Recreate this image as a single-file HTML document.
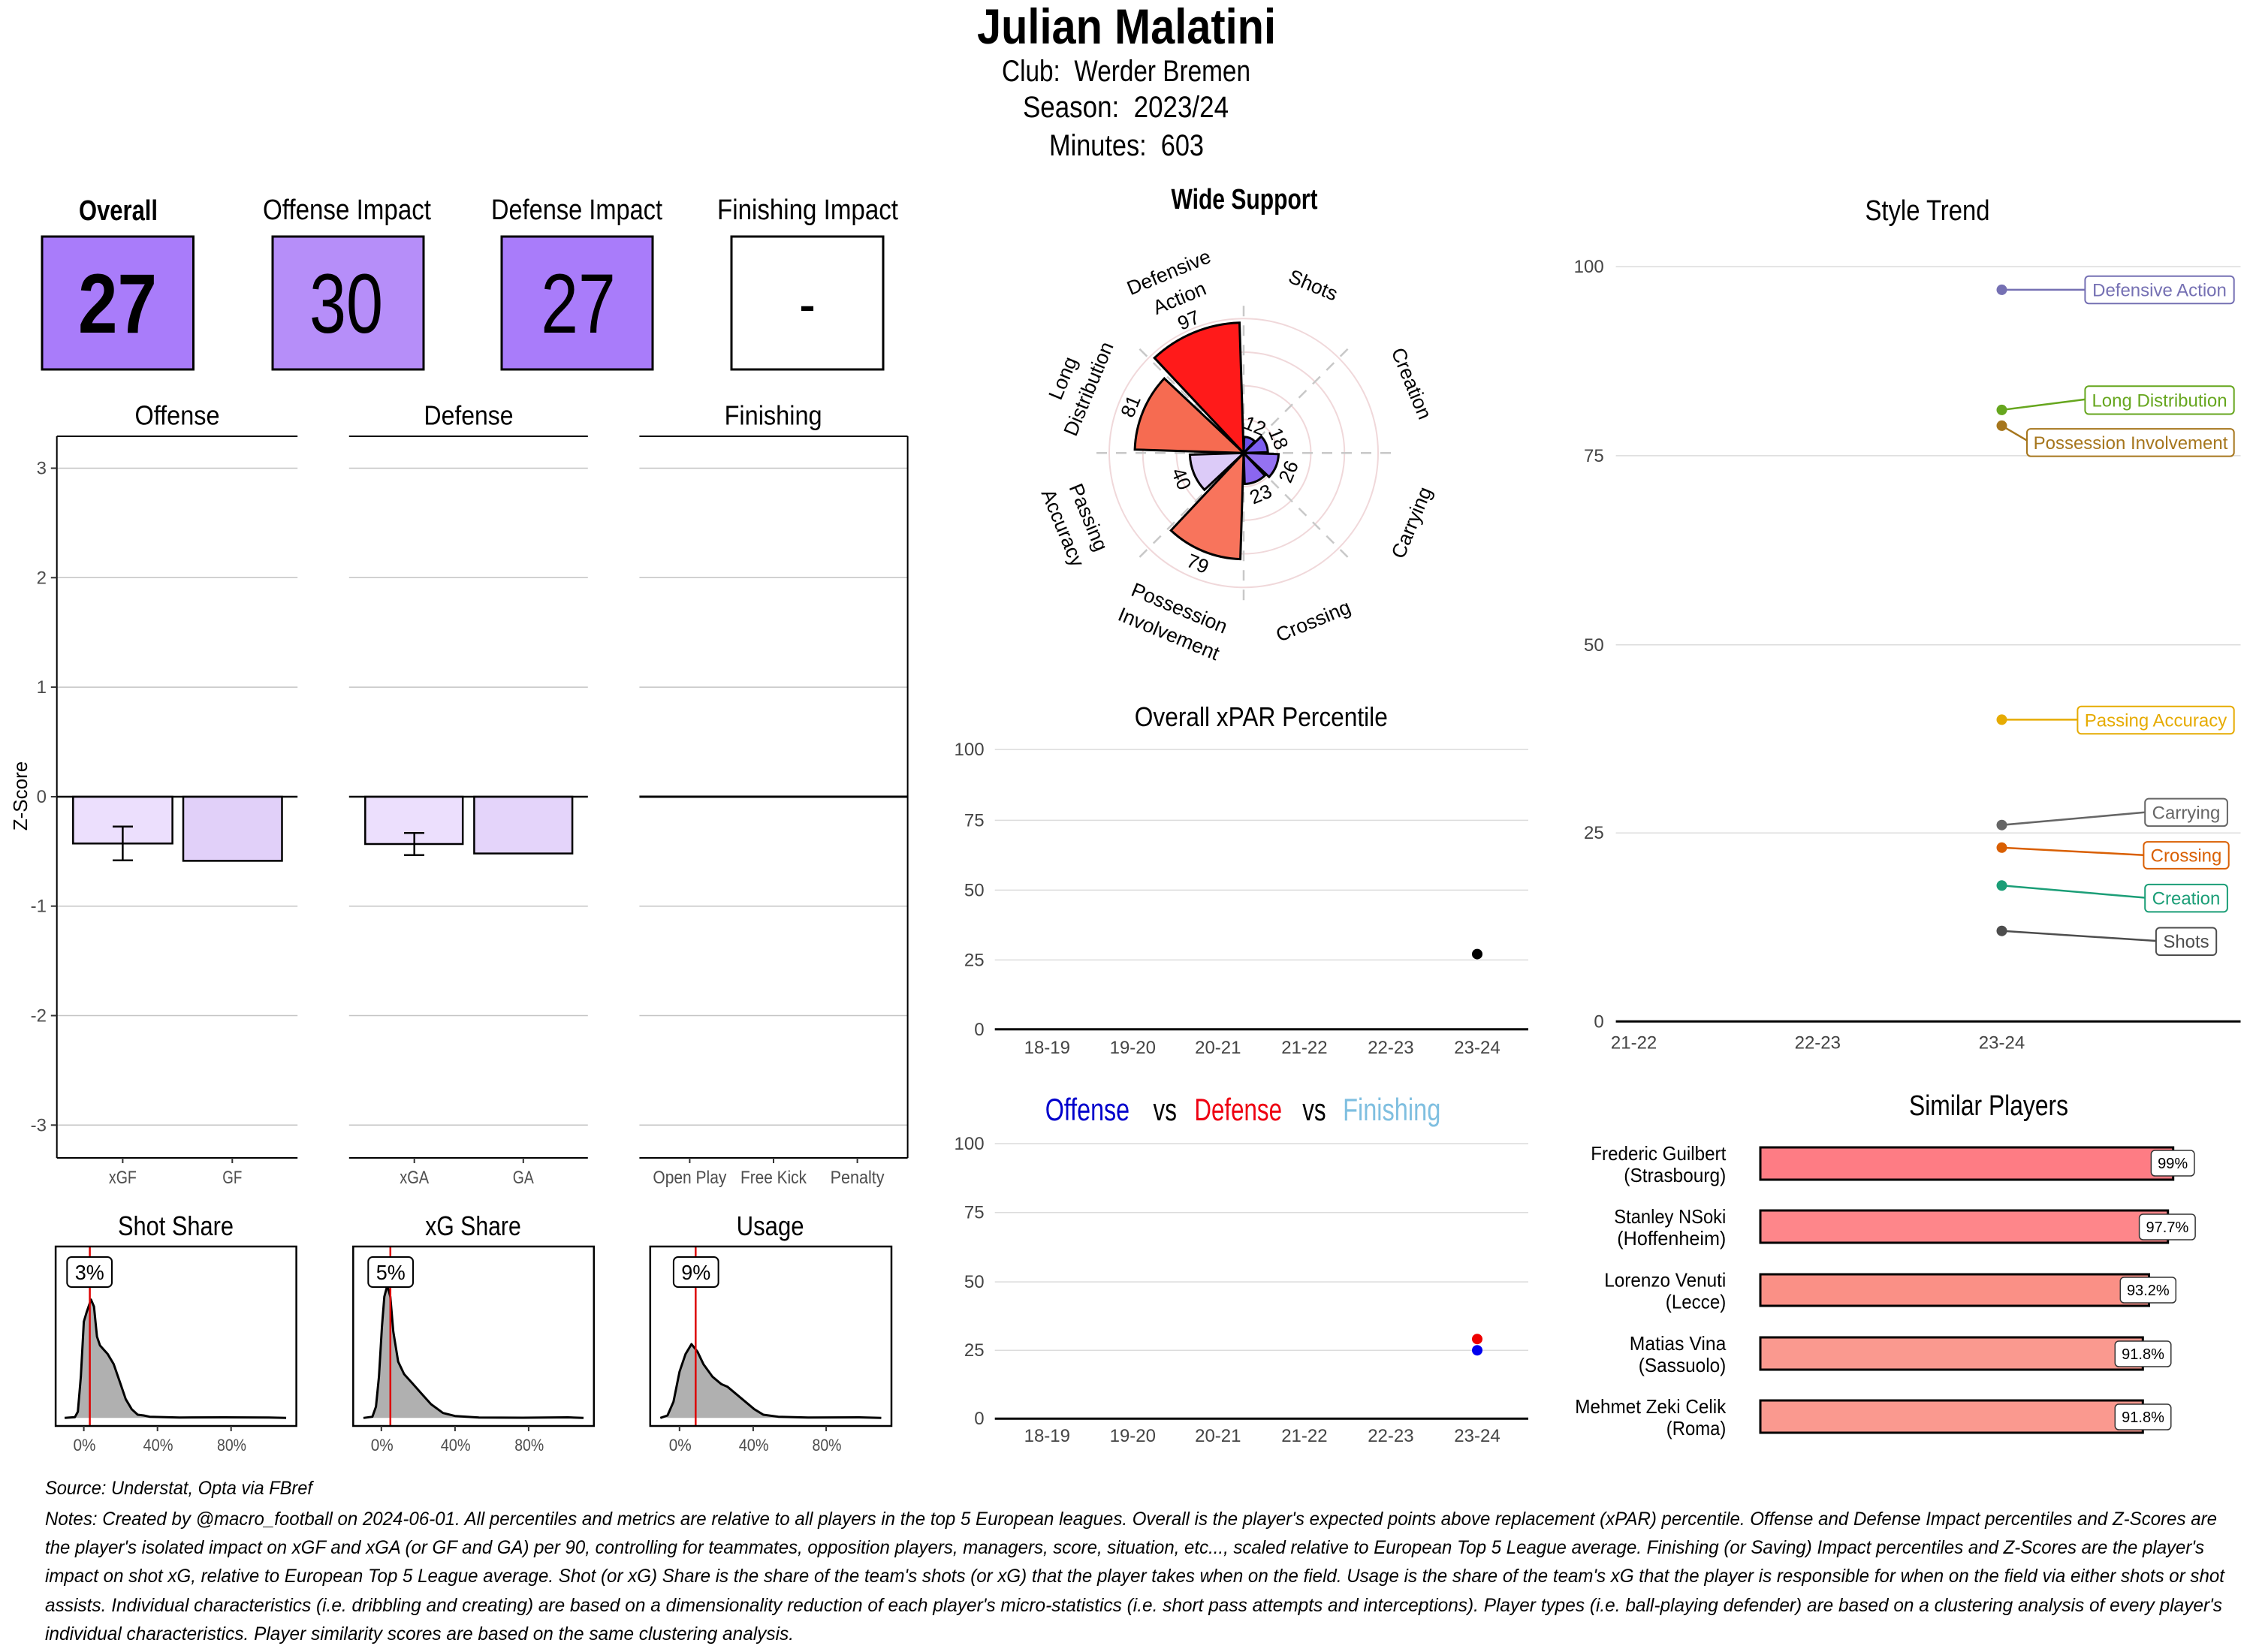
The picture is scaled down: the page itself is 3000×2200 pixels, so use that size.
<!DOCTYPE html>
<html><head><meta charset="utf-8"><style>
html,body{margin:0;padding:0;background:#fff;}
svg{display:block;}
.c{font-family:"Liberation Sans Narrow","Liberation Sans",sans-serif;}
.a{font-family:"Liberation Sans",sans-serif;}
</style></head><body>
<svg width="3000" height="2200" viewBox="0 0 3000 2200" xmlns="http://www.w3.org/2000/svg">
<rect width="3000" height="2200" fill="#fff"/>

<!-- Title block -->
<text class="c" x="1500" y="58" font-size="66" font-weight="bold" text-anchor="middle" textLength="398" lengthAdjust="spacingAndGlyphs">Julian Malatini</text>
<text class="c" x="1499.5" y="108" font-size="40" text-anchor="middle" textLength="331" lengthAdjust="spacingAndGlyphs">Club:&#160; Werder Bremen</text>
<text class="c" x="1499" y="156" font-size="40" text-anchor="middle" textLength="274" lengthAdjust="spacingAndGlyphs">Season:&#160; 2023/24</text>
<text class="c" x="1500" y="207" font-size="40" text-anchor="middle" textLength="206" lengthAdjust="spacingAndGlyphs">Minutes:&#160; 603</text>

<!-- Headers -->
<text class="c" x="157.5" y="293" font-size="38" font-weight="bold" text-anchor="middle" textLength="105" lengthAdjust="spacingAndGlyphs">Overall</text>
<text class="c" x="462" y="292" font-size="38" text-anchor="middle" textLength="224" lengthAdjust="spacingAndGlyphs">Offense Impact</text>
<text class="c" x="768" y="292" font-size="38" text-anchor="middle" textLength="228" lengthAdjust="spacingAndGlyphs">Defense Impact</text>
<text class="c" x="1075.5" y="292" font-size="38" text-anchor="middle" textLength="241" lengthAdjust="spacingAndGlyphs">Finishing Impact</text>
<text class="c" x="1657" y="278" font-size="38" font-weight="bold" text-anchor="middle" textLength="195" lengthAdjust="spacingAndGlyphs">Wide Support</text>
<text class="c" x="2566.5" y="293" font-size="38" text-anchor="middle" textLength="166" lengthAdjust="spacingAndGlyphs">Style Trend</text>

<!-- Score boxes -->
<rect x="56" y="315" width="201.5" height="177" fill="#a97cfa" stroke="#000" stroke-width="3"/>
<rect x="363" y="315" width="201" height="177" fill="#b68ef9" stroke="#000" stroke-width="3"/>
<rect x="668" y="315" width="201" height="177" fill="#a97cfa" stroke="#000" stroke-width="3"/>
<rect x="974" y="315" width="202" height="177" fill="#fff" stroke="#000" stroke-width="3"/>
<text class="c" x="156.5" y="443" font-size="112" font-weight="bold" text-anchor="middle" textLength="105" lengthAdjust="spacingAndGlyphs">27</text>
<text class="c" x="461" y="443" font-size="112" text-anchor="middle" textLength="98" lengthAdjust="spacingAndGlyphs">30</text>
<text class="c" x="770" y="443" font-size="112" text-anchor="middle" textLength="99.5" lengthAdjust="spacingAndGlyphs">27</text>
<text class="c" x="1075" y="432" font-size="80" text-anchor="middle" textLength="22" lengthAdjust="spacingAndGlyphs">-</text>

<!-- Z-score panels -->
<g stroke="#c4c4c4" stroke-width="1.5">
  <line x1="75.7" x2="396.2" y1="623.5" y2="623.5"/><line x1="75.7" x2="396.2" y1="769.3" y2="769.3"/><line x1="75.7" x2="396.2" y1="915.1" y2="915.1"/>
  <line x1="75.7" x2="396.2" y1="1206.7" y2="1206.7"/><line x1="75.7" x2="396.2" y1="1352.5" y2="1352.5"/><line x1="75.7" x2="396.2" y1="1498.3" y2="1498.3"/>
  <line x1="464.8" x2="782.8" y1="623.5" y2="623.5"/><line x1="464.8" x2="782.8" y1="769.3" y2="769.3"/><line x1="464.8" x2="782.8" y1="915.1" y2="915.1"/>
  <line x1="464.8" x2="782.8" y1="1206.7" y2="1206.7"/><line x1="464.8" x2="782.8" y1="1352.5" y2="1352.5"/><line x1="464.8" x2="782.8" y1="1498.3" y2="1498.3"/>
  <line x1="851.4" x2="1208.6" y1="623.5" y2="623.5"/><line x1="851.4" x2="1208.6" y1="769.3" y2="769.3"/><line x1="851.4" x2="1208.6" y1="915.1" y2="915.1"/>
  <line x1="851.4" x2="1208.6" y1="1206.7" y2="1206.7"/><line x1="851.4" x2="1208.6" y1="1352.5" y2="1352.5"/><line x1="851.4" x2="1208.6" y1="1498.3" y2="1498.3"/>
</g>
<!-- bars -->
<rect x="97.3" y="1061" width="132.3" height="62.3" fill="#ecdffd" stroke="#000" stroke-width="2.5"/>
<rect x="244" y="1061" width="131.5" height="85.4" fill="#e1d0f9" stroke="#000" stroke-width="2.5"/>
<rect x="486.3" y="1061" width="129.9" height="63" fill="#ecdffd" stroke="#000" stroke-width="2.5"/>
<rect x="631.4" y="1061" width="130.7" height="75.6" fill="#e4d4fa" stroke="#000" stroke-width="2.5"/>
<g stroke="#000" stroke-width="2.5">
  <line x1="163.4" x2="163.4" y1="1100.8" y2="1145.7"/><line x1="150" x2="177" y1="1100.8" y2="1100.8"/><line x1="150" x2="177" y1="1145.7" y2="1145.7"/>
  <line x1="551.7" x2="551.7" y1="1109.3" y2="1138.7"/><line x1="538" x2="565" y1="1109.3" y2="1109.3"/><line x1="538" x2="565" y1="1138.7" y2="1138.7"/>
</g>
<g stroke="#000">
  <line x1="75.7" x2="396.2" y1="1061" y2="1061" stroke-width="2.5"/>
  <line x1="464.8" x2="782.8" y1="1061" y2="1061" stroke-width="2.5"/>
  <line x1="851.4" x2="1208.6" y1="1061" y2="1061" stroke-width="3"/>
  <line x1="75.7" x2="396.2" y1="581" y2="581" stroke-width="2"/>
  <line x1="464.8" x2="782.8" y1="581" y2="581" stroke-width="2"/>
  <line x1="851.4" x2="1208.6" y1="581" y2="581" stroke-width="2"/>
  <line x1="75.7" x2="396.2" y1="1542" y2="1542" stroke-width="2"/>
  <line x1="464.8" x2="782.8" y1="1542" y2="1542" stroke-width="2"/>
  <line x1="851.4" x2="1208.6" y1="1542" y2="1542" stroke-width="2"/>
  <line x1="75.7" x2="75.7" y1="581" y2="1542" stroke-width="2"/>
  <line x1="1208.6" x2="1208.6" y1="581" y2="1542" stroke-width="2"/>
</g>
<g stroke="#333" stroke-width="2">
  <line x1="67.8" x2="75.7" y1="623.5" y2="623.5"/><line x1="67.8" x2="75.7" y1="769.3" y2="769.3"/><line x1="67.8" x2="75.7" y1="915.1" y2="915.1"/>
  <line x1="67.8" x2="75.7" y1="1061" y2="1061"/><line x1="67.8" x2="75.7" y1="1206.7" y2="1206.7"/><line x1="67.8" x2="75.7" y1="1352.5" y2="1352.5"/><line x1="67.8" x2="75.7" y1="1498.3" y2="1498.3"/>
  <line x1="163.4" x2="163.4" y1="1542" y2="1549"/><line x1="309.3" x2="309.3" y1="1542" y2="1549"/>
  <line x1="551.7" x2="551.7" y1="1542" y2="1549"/><line x1="696.8" x2="696.8" y1="1542" y2="1549"/>
  <line x1="918.4" x2="918.4" y1="1542" y2="1549"/><line x1="1030" x2="1030" y1="1542" y2="1549"/><line x1="1141.6" x2="1141.6" y1="1542" y2="1549"/>
</g>
<g class="c" font-size="24" fill="#4d4d4d" text-anchor="end">
  <text x="62" y="631.5">3</text><text x="62" y="777.3">2</text><text x="62" y="923.1">1</text><text x="62" y="1069">0</text>
  <text x="62" y="1214.7">-1</text><text x="62" y="1360.5">-2</text><text x="62" y="1506.3">-3</text>
</g>
<g class="c" font-size="24" fill="#4d4d4d" text-anchor="middle">
  <text x="163.4" y="1576" textLength="37" lengthAdjust="spacingAndGlyphs">xGF</text>
  <text x="309.3" y="1576" textLength="26" lengthAdjust="spacingAndGlyphs">GF</text>
  <text x="551.7" y="1576" textLength="39" lengthAdjust="spacingAndGlyphs">xGA</text>
  <text x="696.8" y="1576" textLength="28" lengthAdjust="spacingAndGlyphs">GA</text>
  <text x="918.4" y="1576" textLength="98" lengthAdjust="spacingAndGlyphs">Open Play</text>
  <text x="1030" y="1576" textLength="88" lengthAdjust="spacingAndGlyphs">Free Kick</text>
  <text x="1141.6" y="1576" textLength="72" lengthAdjust="spacingAndGlyphs">Penalty</text>
</g>
<g class="c" font-size="36" text-anchor="middle">
  <text x="236" y="565.6" textLength="113" lengthAdjust="spacingAndGlyphs">Offense</text>
  <text x="624" y="565.6" textLength="119" lengthAdjust="spacingAndGlyphs">Defense</text>
  <text x="1029.6" y="565.6" textLength="130" lengthAdjust="spacingAndGlyphs">Finishing</text>
</g>
<text class="a" x="0" y="0" font-size="26" text-anchor="middle" dominant-baseline="central" transform="translate(27,1060) rotate(-90)">Z-Score</text>

<!-- Density panels -->
<g class="c" font-size="36" text-anchor="middle">
  <text x="234" y="1645" textLength="154" lengthAdjust="spacingAndGlyphs">Shot Share</text>
  <text x="630" y="1645" textLength="127.6" lengthAdjust="spacingAndGlyphs">xG Share</text>
  <text x="1025.6" y="1645" textLength="90" lengthAdjust="spacingAndGlyphs">Usage</text>
</g>
<g transform="scale(0.99488,1)">
<path d="M86.5,1888.3 L100.2,1887.3 L104.2,1880 L108.2,1833.3 L112.2,1760 L116.2,1746.7 L121.8,1730.7 L125.8,1740 L129.8,1780 L133.8,1791.7 L144.2,1803.3 L152.2,1816.7 L160.3,1840 L168.3,1863.3 L176.3,1876.7 L184.3,1884 L192.3,1885 L200.3,1886.7 L240.4,1887.7 L300,1887.5 L360,1887.7 L383,1888.3 Z" fill="#b0b0b0"/>
<path d="M486.4,1888.3 L498.4,1886.7 L503.2,1873.3 L507.2,1833.3 L511.2,1766.7 L514.4,1726.7 L518.4,1711.7 L522.4,1726.7 L526.4,1773.3 L532.9,1813.3 L540.9,1830 L552.9,1843.3 L564.9,1856.7 L576.9,1870 L592.9,1881.7 L609,1885.7 L641,1887.7 L700,1888 L760,1887.5 L781,1888.3 Z" fill="#b0b0b0"/>
<path d="M883.8,1888.3 L893.4,1885 L901.4,1866.7 L909.5,1826.7 L917.5,1803.3 L925.5,1790 L933.5,1800 L941.5,1816.7 L953.5,1833.3 L965.5,1843.3 L973.6,1846.7 L985.6,1856.7 L997.6,1866.7 L1009.6,1876.7 L1021.6,1884 L1041.7,1886.7 L1081.7,1887.7 L1150,1887.5 L1179.5,1888.3 Z" fill="#b0b0b0"/>
<g fill="none" stroke="#000" stroke-width="3" stroke-linejoin="round">
<path d="M86.5,1888.3 L100.2,1887.3 L104.2,1880 L108.2,1833.3 L112.2,1760 L116.2,1746.7 L121.8,1730.7 L125.8,1740 L129.8,1780 L133.8,1791.7 L144.2,1803.3 L152.2,1816.7 L160.3,1840 L168.3,1863.3 L176.3,1876.7 L184.3,1884 L192.3,1885 L200.3,1886.7 L240.4,1887.7 L300,1887.5 L360,1887.7 L383,1888.3"/>
<path d="M486.4,1888.3 L498.4,1886.7 L503.2,1873.3 L507.2,1833.3 L511.2,1766.7 L514.4,1726.7 L518.4,1711.7 L522.4,1726.7 L526.4,1773.3 L532.9,1813.3 L540.9,1830 L552.9,1843.3 L564.9,1856.7 L576.9,1870 L592.9,1881.7 L609,1885.7 L641,1887.7 L700,1888 L760,1887.5 L781,1888.3"/>
<path d="M883.8,1888.3 L893.4,1885 L901.4,1866.7 L909.5,1826.7 L917.5,1803.3 L925.5,1790 L933.5,1800 L941.5,1816.7 L953.5,1833.3 L965.5,1843.3 L973.6,1846.7 L985.6,1856.7 L997.6,1866.7 L1009.6,1876.7 L1021.6,1884 L1041.7,1886.7 L1081.7,1887.7 L1150,1887.5 L1179.5,1888.3"/>
</g>
</g>
<g stroke="#dd0000" stroke-width="2.5">
  <line x1="119.6" x2="119.6" y1="1660" y2="1899"/>
  <line x1="519.8" x2="519.8" y1="1660" y2="1899"/>
  <line x1="926.3" x2="926.3" y1="1660" y2="1899"/>
</g>
<g fill="none" stroke="#000" stroke-width="2.5">
  <rect x="74.1" y="1660" width="320.5" height="239"/>
  <rect x="470.3" y="1660" width="320.5" height="239"/>
  <rect x="865.8" y="1660" width="321.2" height="239"/>
</g>
<g stroke="#333" stroke-width="2">
  <line x1="111.6" x2="111.6" y1="1899" y2="1906"/><line x1="209.7" x2="209.7" y1="1899" y2="1906"/><line x1="307.7" x2="307.7" y1="1899" y2="1906"/>
  <line x1="507.8" x2="507.8" y1="1899" y2="1906"/><line x1="605.9" x2="605.9" y1="1899" y2="1906"/><line x1="703.9" x2="703.9" y1="1899" y2="1906"/>
  <line x1="904.8" x2="904.8" y1="1899" y2="1906"/><line x1="1002.9" x2="1002.9" y1="1899" y2="1906"/><line x1="1100.1" x2="1100.1" y1="1899" y2="1906"/>
</g>
<g class="c" font-size="22" fill="#4d4d4d" text-anchor="middle">
  <text x="112.5" y="1932" textLength="30" lengthAdjust="spacingAndGlyphs">0%</text>
  <text x="210.5" y="1932" textLength="40" lengthAdjust="spacingAndGlyphs">40%</text>
  <text x="308.5" y="1932" textLength="39" lengthAdjust="spacingAndGlyphs">80%</text>
  <text x="508.7" y="1932" textLength="30" lengthAdjust="spacingAndGlyphs">0%</text>
  <text x="606.7" y="1932" textLength="40" lengthAdjust="spacingAndGlyphs">40%</text>
  <text x="704.7" y="1932" textLength="39" lengthAdjust="spacingAndGlyphs">80%</text>
  <text x="905.7" y="1932" textLength="30" lengthAdjust="spacingAndGlyphs">0%</text>
  <text x="1003.7" y="1932" textLength="40" lengthAdjust="spacingAndGlyphs">40%</text>
  <text x="1101" y="1932" textLength="39" lengthAdjust="spacingAndGlyphs">80%</text>
</g>
<g fill="#fff" stroke="#000" stroke-width="2">
  <rect x="89.3" y="1674" width="59.7" height="40" rx="6"/>
  <rect x="490.3" y="1674" width="59.7" height="40" rx="6"/>
  <rect x="896.9" y="1674" width="59.7" height="40" rx="6"/>
</g>
<g class="c" font-size="28" text-anchor="middle">
  <text x="119.2" y="1704" textLength="39" lengthAdjust="spacingAndGlyphs">3%</text>
  <text x="520.2" y="1704" textLength="39" lengthAdjust="spacingAndGlyphs">5%</text>
  <text x="926.8" y="1704" textLength="39" lengthAdjust="spacingAndGlyphs">9%</text>
</g>

<!-- Radar -->
<g transform="translate(-2,-1.7)">
<g fill="none" stroke="#f0d8da" stroke-width="2">
  <circle cx="1658" cy="605" r="44.75"/><circle cx="1658" cy="605" r="89.5"/>
  <circle cx="1658" cy="605" r="134.25"/><circle cx="1658" cy="605" r="179"/>
</g>
<g stroke="#c8c8c8" stroke-width="2.5" stroke-dasharray="14 12">
  <line x1="1658" y1="605" x2="1658" y2="406"/>
  <line x1="1658" y1="605" x2="1798.7" y2="464.3"/>
  <line x1="1658" y1="605" x2="1857" y2="605"/>
  <line x1="1658" y1="605" x2="1798.7" y2="745.7"/>
  <line x1="1658" y1="605" x2="1658" y2="804"/>
  <line x1="1658" y1="605" x2="1517.3" y2="745.7"/>
  <line x1="1658" y1="605" x2="1459" y2="605"/>
  <line x1="1658" y1="605" x2="1517.3" y2="464.3"/>
</g>
<g stroke="#000" stroke-width="3" stroke-linejoin="miter">
  <path d="M1658,605 L1658.7,583.5 A21.5,21.5 0 0 1 1672.7,589.3 Z" fill="#6c50e8"/>
  <path d="M1658,605 L1681.5,583.0 A32.2,32.2 0 0 1 1690.2,604.0 Z" fill="#7d5ff0"/>
  <path d="M1658,605 L1704.5,606.5 A46.5,46.5 0 0 1 1691.9,636.8 Z" fill="#9572f2"/>
  <path d="M1658,605 L1686.2,635.0 A41.2,41.2 0 0 1 1659.3,646.2 Z" fill="#8b66f0"/>
  <path d="M1658,605 L1653.6,746.3 A141.4,141.4 0 0 1 1561.2,708.1 Z" fill="#f8745c"/>
  <path d="M1658,605 L1605.8,654.0 A71.6,71.6 0 0 1 1586.4,607.2 Z" fill="#dccbf8"/>
  <path d="M1658,605 L1513.1,600.4 A145,145 0 0 1 1552.3,505.7 Z" fill="#f66b51"/>
  <path d="M1658,605 L1539.2,478.4 A173.6,173.6 0 0 1 1652.5,431.5 Z" fill="#ff1a1a"/>
</g>
<g class="a" font-size="26" text-anchor="middle" dominant-baseline="central">
  <text transform="translate(1673.1,568.5) rotate(22.5)">12</text>
  <text transform="translate(1704.4,585.8) rotate(67.5)">18</text>
  <text transform="translate(1717.6,629.7) rotate(-67.5)">26</text>
  <text transform="translate(1680.7,659.7) rotate(-22.5)">23</text>
  <text transform="translate(1597.0,752.3) rotate(22.5)">79</text>
  <text transform="translate(1575.2,639.3) rotate(67.5)">40</text>
  <text transform="translate(1507.4,542.6) rotate(-67.5)">81</text>
  <text transform="translate(1584.7,428.0) rotate(-22.5)">97</text>
</g>
<g class="a" font-size="26.5" text-anchor="middle" dominant-baseline="central">
  <text transform="translate(1750.6,381.4) rotate(22.5)">Shots</text>
  <text transform="translate(1881.6,512.4) rotate(67.5)">Creation</text>
  <text transform="translate(1881.6,697.6) rotate(-67.5)">Carrying</text>
  <text transform="translate(1750.6,828.6) rotate(-22.5)">Crossing</text>
  <g transform="translate(1565.4,828.6) rotate(22.5)"><text y="-18.5">Possession</text><text y="18.5">Involvement</text></g>
  <g transform="translate(1434.4,697.6) rotate(67.5)"><text y="-18.5">Passing</text><text y="18.5">Accuracy</text></g>
  <g transform="translate(1434.4,512.4) rotate(-67.5)"><text y="-18.5">Long</text><text y="18.5">Distribution</text></g>
  <g transform="translate(1565.4,381.4) rotate(-22.5)"><text y="-18.5">Defensive</text><text y="18.5">Action</text></g>
</g>
</g>

<!-- Overall xPAR Percentile -->
<text class="a" x="1679.3" y="967" font-size="36" text-anchor="middle" textLength="337" lengthAdjust="spacingAndGlyphs">Overall xPAR Percentile</text>
<g stroke="#dcdcdc" stroke-width="1.5">
  <line x1="1324.7" x2="2035" y1="998.1" y2="998.1"/><line x1="1324.7" x2="2035" y1="1092.4" y2="1092.4"/>
  <line x1="1324.7" x2="2035" y1="1185.4" y2="1185.4"/><line x1="1324.7" x2="2035" y1="1278.4" y2="1278.4"/>
  <line x1="1324.7" x2="2035" y1="1523" y2="1523"/><line x1="1324.7" x2="2035" y1="1614.7" y2="1614.7"/>
  <line x1="1324.7" x2="2035" y1="1707.1" y2="1707.1"/><line x1="1324.7" x2="2035" y1="1798.2" y2="1798.2"/>
</g>
<line x1="1324.7" x2="2035" y1="1370.8" y2="1370.8" stroke="#000" stroke-width="3"/>
<line x1="1324.7" x2="2035" y1="1889.2" y2="1889.2" stroke="#000" stroke-width="3"/>
<g class="a" font-size="24" fill="#444" text-anchor="end">
  <text x="1310.6" y="1006.1">100</text><text x="1310.6" y="1100.4">75</text><text x="1310.6" y="1193.4">50</text><text x="1310.6" y="1286.4">25</text><text x="1310.6" y="1378.8">0</text>
  <text x="1310.6" y="1531">100</text><text x="1310.6" y="1622.7">75</text><text x="1310.6" y="1715.1">50</text><text x="1310.6" y="1806.2">25</text><text x="1310.6" y="1897.2">0</text>
</g>
<g class="a" font-size="24" fill="#444" text-anchor="middle">
  <text x="1394.3" y="1403">18-19</text><text x="1508.3" y="1403">19-20</text><text x="1621.8" y="1403">20-21</text>
  <text x="1736.9" y="1403">21-22</text><text x="1851.9" y="1403">22-23</text><text x="1967" y="1403">23-24</text>
  <text x="1394.3" y="1920">18-19</text><text x="1508.3" y="1920">19-20</text><text x="1621.8" y="1920">20-21</text>
  <text x="1736.9" y="1920">21-22</text><text x="1851.9" y="1920">22-23</text><text x="1967" y="1920">23-24</text>
</g>
<circle cx="1967" cy="1270.6" r="7" fill="#000"/>
<circle cx="1967" cy="1783.2" r="7" fill="#ee0000"/>
<circle cx="1967" cy="1798.2" r="7" fill="#0000ee"/>
<g class="a" font-size="42">
  <text x="1391.7" y="1492" fill="#0000cc" textLength="112.4" lengthAdjust="spacingAndGlyphs">Offense</text>
  <text x="1535.5" y="1492" fill="#000" textLength="31.4" lengthAdjust="spacingAndGlyphs">vs</text>
  <text x="1590.4" y="1492" fill="#ee0011" textLength="116.6" lengthAdjust="spacingAndGlyphs">Defense</text>
  <text x="1734.2" y="1492" fill="#000" textLength="31.4" lengthAdjust="spacingAndGlyphs">vs</text>
  <text x="1788.1" y="1492" fill="#7fbfe0" textLength="130.2" lengthAdjust="spacingAndGlyphs">Finishing</text>
</g>

<!-- Style Trend -->
<g stroke="#dcdcdc" stroke-width="1.5">
  <line x1="2151.6" x2="2983.5" y1="355.1" y2="355.1"/><line x1="2151.6" x2="2983.5" y1="606.9" y2="606.9"/>
  <line x1="2151.6" x2="2983.5" y1="858.8" y2="858.8"/><line x1="2151.6" x2="2983.5" y1="1109.2" y2="1109.2"/>
</g>
<line x1="2151.6" x2="2983.5" y1="1360.3" y2="1360.3" stroke="#000" stroke-width="3"/>
<g class="a" font-size="24" fill="#444" text-anchor="end">
  <text x="2135.7" y="363.1">100</text><text x="2135.7" y="614.9">75</text><text x="2135.7" y="866.8">50</text><text x="2135.7" y="1117.2">25</text><text x="2135.7" y="1368.3">0</text>
</g>
<g class="a" font-size="24" fill="#444" text-anchor="middle">
  <text x="2175.6" y="1396.5">21-22</text><text x="2420.3" y="1396.5">22-23</text><text x="2665.5" y="1396.5">23-24</text>
</g>
<g stroke-width="2.5">
  <line x1="2665.5" y1="385.9" x2="2776.4" y2="385.9" stroke="#7570b3"/>
  <line x1="2665.5" y1="545.9" x2="2776.4" y2="531.9" stroke="#66a61e"/>
  <line x1="2665.5" y1="566.9" x2="2699" y2="586.6" stroke="#a6761d"/>
  <line x1="2665.5" y1="958.4" x2="2766.4" y2="958.4" stroke="#e6ab02"/>
  <line x1="2665.5" y1="1098.7" x2="2856.2" y2="1081.8" stroke="#666666"/>
  <line x1="2665.5" y1="1128.8" x2="2854.4" y2="1138.7" stroke="#d95f02"/>
  <line x1="2665.5" y1="1179.3" x2="2856.2" y2="1195.5" stroke="#1b9e77"/>
  <line x1="2665.5" y1="1239.7" x2="2870.9" y2="1253" stroke="#4d4d4d"/>
</g>
<circle cx="2665.5" cy="385.9" r="7" fill="#7570b3"/>
<circle cx="2665.5" cy="545.9" r="7" fill="#66a61e"/>
<circle cx="2665.5" cy="566.9" r="7" fill="#a6761d"/>
<circle cx="2665.5" cy="958.4" r="7" fill="#e6ab02"/>
<circle cx="2665.5" cy="1098.7" r="7" fill="#666666"/>
<circle cx="2665.5" cy="1128.8" r="7" fill="#d95f02"/>
<circle cx="2665.5" cy="1179.3" r="7" fill="#1b9e77"/>
<circle cx="2665.5" cy="1239.7" r="7" fill="#4d4d4d"/>
<g fill="#fff" stroke-width="2">
  <rect x="2776.4" y="367.7" width="198.3" height="36.5" rx="5" stroke="#7570b3"/>
  <rect x="2776.4" y="514.3" width="198.3" height="37.2" rx="5" stroke="#66a61e"/>
  <rect x="2699" y="571.1" width="275.7" height="36.5" rx="5" stroke="#a6761d"/>
  <rect x="2766.4" y="940.8" width="208.3" height="36.5" rx="5" stroke="#e6ab02"/>
  <rect x="2856.2" y="1063.6" width="109.7" height="36.5" rx="5" stroke="#666666"/>
  <rect x="2854.4" y="1121.1" width="113.3" height="35.8" rx="5" stroke="#d95f02"/>
  <rect x="2856.2" y="1177.9" width="109.7" height="36.5" rx="5" stroke="#1b9e77"/>
  <rect x="2870.9" y="1235.5" width="80.3" height="36.5" rx="5" stroke="#4d4d4d"/>
</g>
<g class="a" font-size="24" text-anchor="middle">
  <text x="2875.5" y="394.5" fill="#7570b3">Defensive Action</text>
  <text x="2875.5" y="541.5" fill="#66a61e">Long Distribution</text>
  <text x="2837" y="598" fill="#a6761d">Possession Involvement</text>
  <text x="2870.5" y="967.5" fill="#e6ab02">Passing Accuracy</text>
  <text x="2911" y="1090.5" fill="#666666">Carrying</text>
  <text x="2911" y="1147.5" fill="#d95f02">Crossing</text>
  <text x="2911" y="1204.5" fill="#1b9e77">Creation</text>
  <text x="2911" y="1262" fill="#4d4d4d">Shots</text>
</g>

<!-- Similar Players -->
<text class="c" x="2648" y="1485" font-size="38" text-anchor="middle" textLength="212" lengthAdjust="spacingAndGlyphs">Similar Players</text>
<g stroke="#000" stroke-width="3">
  <rect x="2344" y="1528" width="549.7" height="43" fill="#fe7c84"/>
  <rect x="2344" y="1612" width="542.7" height="43" fill="#fe868a"/>
  <rect x="2344" y="1697" width="517.5" height="42" fill="#fa9086"/>
  <rect x="2344" y="1781" width="509.3" height="43" fill="#fa998f"/>
  <rect x="2344" y="1865" width="509.3" height="43" fill="#fa998f"/>
</g>
<g fill="#fff" stroke="#333" stroke-width="1.5">
  <rect x="2864.4" y="1532" width="57.5" height="34" rx="5"/>
  <rect x="2848.6" y="1617" width="74.5" height="34" rx="5"/>
  <rect x="2823.3" y="1701" width="74" height="34" rx="5"/>
  <rect x="2816.3" y="1786" width="74.5" height="34" rx="5"/>
  <rect x="2816.3" y="1870" width="74.5" height="34" rx="5"/>
</g>
<g class="a" font-size="20" text-anchor="middle">
  <text x="2893.2" y="1556">99%</text>
  <text x="2885.9" y="1641">97.7%</text>
  <text x="2860.3" y="1725">93.2%</text>
  <text x="2853.5" y="1810">91.8%</text>
  <text x="2853.5" y="1894">91.8%</text>
</g>
<g class="c" font-size="26" text-anchor="end">
  <text x="2298.3" y="1545" textLength="180" lengthAdjust="spacingAndGlyphs">Frederic Guilbert</text>
  <text x="2298.3" y="1574" textLength="136" lengthAdjust="spacingAndGlyphs">(Strasbourg)</text>
  <text x="2298.3" y="1629" textLength="149" lengthAdjust="spacingAndGlyphs">Stanley NSoki</text>
  <text x="2298.3" y="1658" textLength="145" lengthAdjust="spacingAndGlyphs">(Hoffenheim)</text>
  <text x="2298.3" y="1713.5" textLength="162" lengthAdjust="spacingAndGlyphs">Lorenzo Venuti</text>
  <text x="2298.3" y="1742.5" textLength="80.5" lengthAdjust="spacingAndGlyphs">(Lecce)</text>
  <text x="2298.3" y="1798" textLength="128.5" lengthAdjust="spacingAndGlyphs">Matias Vina</text>
  <text x="2298.3" y="1827" textLength="116.5" lengthAdjust="spacingAndGlyphs">(Sassuolo)</text>
  <text x="2298.3" y="1882" textLength="201" lengthAdjust="spacingAndGlyphs">Mehmet Zeki Celik</text>
  <text x="2298.3" y="1911" textLength="79.5" lengthAdjust="spacingAndGlyphs">(Roma)</text>
</g>

<!-- Notes -->
<g class="c" font-size="25" font-style="italic">
  <text x="60" y="1990" textLength="356" lengthAdjust="spacingAndGlyphs">Source: Understat, Opta via FBref</text>
  <text x="60" y="2031" textLength="2892" lengthAdjust="spacingAndGlyphs">Notes: Created by @macro_football on 2024-06-01. All percentiles and metrics are relative to all players in the top 5 European leagues. Overall is the player's expected points above replacement (xPAR) percentile. Offense and Defense Impact percentiles and Z-Scores are</text>
  <text x="60" y="2069" textLength="2875" lengthAdjust="spacingAndGlyphs">the player's isolated impact on xGF and xGA (or GF and GA) per 90, controlling for teammates, opposition players, managers, score, situation, etc..., scaled relative to European Top 5 League average. Finishing (or Saving) Impact percentiles and Z-Scores are the player's</text>
  <text x="60" y="2107" textLength="2902" lengthAdjust="spacingAndGlyphs">impact on shot xG, relative to European Top 5 League average. Shot (or xG) Share is the share of the team's shots (or xG) that the player takes when on the field. Usage is the share of the team's xG that the player is responsible for when on the field via either shots or shot</text>
  <text x="60" y="2146" textLength="2899" lengthAdjust="spacingAndGlyphs">assists. Individual characteristics (i.e. dribbling and creating) are based on a dimensionality reduction of each player's micro-statistics (i.e. short pass attempts and interceptions). Player types (i.e. ball-playing defender) are based on a clustering analysis of every player's</text>
  <text x="60" y="2184" textLength="997" lengthAdjust="spacingAndGlyphs">individual characteristics. Player similarity scores are based on the same clustering analysis.</text>
</g>
</svg>
</body></html>
